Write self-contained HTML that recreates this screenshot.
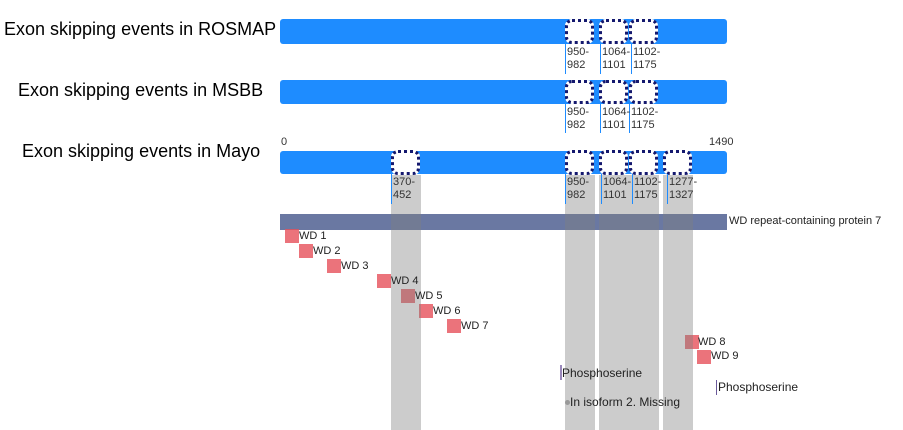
<!DOCTYPE html>
<html><head><style>
body{margin:0;width:903px;height:430px;background:#fff;position:relative;overflow:hidden;font-family:"Liberation Sans",Arial,sans-serif}
div{position:absolute}
.t{font-size:18px;color:#000;white-space:nowrap}
.bar{background:#1e8cff;border-radius:3px;left:280px;width:447px}
.ex{border:3px dotted #14186e;background:#fff;border-radius:7px;box-sizing:border-box;width:29px;z-index:4}
.g{background:rgba(128,128,128,0.4);top:175px;height:255px;z-index:3}
.lab{font-size:11px;line-height:13px;color:#333;z-index:5}
.vl{width:1px;background:#1e8cff;z-index:4}
.sq{width:14px;height:14px;background:rgba(230,80,90,0.8)}
.wd{font-size:11px;color:#222;z-index:5;white-space:nowrap}
</style></head><body>
<div class="t" style="left:4px;top:19px">Exon skipping events in ROSMAP</div>
<div class="t" style="left:18px;top:80px">Exon skipping events in MSBB</div>
<div class="t" style="left:22px;top:141px">Exon skipping events in Mayo</div>

<div class="bar" style="top:19px;height:25px"></div>
<div class="bar" style="top:80px;height:24px"></div>
<div class="bar" style="top:151px;height:23px"></div>

<div class="ex" style="left:565px;top:19px;height:25px"></div>
<div class="ex" style="left:599px;top:19px;height:25px"></div>
<div class="ex" style="left:629px;top:19px;height:25px"></div>
<div class="ex" style="left:565px;top:80px;height:24px"></div>
<div class="ex" style="left:599px;top:80px;height:24px"></div>
<div class="ex" style="left:629px;top:80px;height:24px"></div>
<div class="ex" style="left:391px;top:150px;height:25px"></div>
<div class="ex" style="left:565px;top:150px;height:25px"></div>
<div class="ex" style="left:599px;top:150px;height:25px"></div>
<div class="ex" style="left:629px;top:150px;height:25px"></div>
<div class="ex" style="left:663px;top:150px;height:25px"></div>

<div class="lab" style="left:281px;top:136px">0</div>
<div class="lab" style="left:709px;top:136px">1490</div>

<div class="vl" style="left:565px;top:44px;height:30px"></div>
<div class="vl" style="left:600px;top:44px;height:30px"></div>
<div class="vl" style="left:631px;top:44px;height:30px"></div>
<div class="lab" style="left:567px;top:46px">950-<br>982</div>
<div class="lab" style="left:602px;top:46px">1064-<br>1101</div>
<div class="lab" style="left:633px;top:46px">1102-<br>1175</div>

<div class="vl" style="left:565px;top:104px;height:29px"></div>
<div class="vl" style="left:600px;top:104px;height:29px"></div>
<div class="vl" style="left:629px;top:104px;height:29px"></div>
<div class="lab" style="left:567px;top:106px">950-<br>982</div>
<div class="lab" style="left:602px;top:106px">1064-<br>1101</div>
<div class="lab" style="left:631px;top:106px">1102-<br>1175</div>

<div class="vl" style="left:391px;top:174px;height:30px"></div>
<div class="vl" style="left:565px;top:174px;height:30px"></div>
<div class="vl" style="left:601px;top:174px;height:30px"></div>
<div class="vl" style="left:632px;top:174px;height:30px"></div>
<div class="vl" style="left:667px;top:174px;height:30px"></div>
<div class="lab" style="left:393px;top:176px">370-<br>452</div>
<div class="lab" style="left:567px;top:176px">950-<br>982</div>
<div class="lab" style="left:603px;top:176px">1064-<br>1101</div>
<div class="lab" style="left:634px;top:176px">1102-<br>1175</div>
<div class="lab" style="left:669px;top:176px">1277-<br>1327</div>

<div style="left:280px;top:214px;width:447px;height:16px;background:#6a78a2"></div>
<div class="wd" style="left:729px;top:215px">WD repeat-containing protein 7</div>

<div class="sq" style="left:285px;top:229px"></div><div class="wd" style="left:299px;top:230px">WD 1</div>
<div class="sq" style="left:299px;top:244px"></div><div class="wd" style="left:313px;top:245px">WD 2</div>
<div class="sq" style="left:327px;top:259px"></div><div class="wd" style="left:341px;top:260px">WD 3</div>
<div class="sq" style="left:377px;top:274px"></div><div class="wd" style="left:391px;top:275px">WD 4</div>
<div class="sq" style="left:401px;top:289px"></div><div class="wd" style="left:415px;top:290px">WD 5</div>
<div class="sq" style="left:419px;top:304px"></div><div class="wd" style="left:433px;top:305px">WD 6</div>
<div class="sq" style="left:447px;top:319px"></div><div class="wd" style="left:461px;top:320px">WD 7</div>
<div class="sq" style="left:685px;top:335px"></div><div class="wd" style="left:698px;top:336px">WD 8</div>
<div class="sq" style="left:697px;top:350px"></div><div class="wd" style="left:711px;top:350px">WD 9</div>

<div style="left:560px;top:365px;width:2px;height:15px;background:#9a88bb"></div>
<div class="wd" style="left:562px;top:366px;font-size:12px">Phosphoserine</div>
<div style="left:716px;top:380px;width:1px;height:15px;background:#6a5a9a"></div>
<div class="wd" style="left:718px;top:380px;font-size:12px">Phosphoserine</div>
<div style="left:565px;top:400px;width:5px;height:5px;border-radius:50%;background:#aaa"></div>
<div class="wd" style="left:570px;top:395px;font-size:12px">In isoform 2. Missing</div>

<div class="g" style="left:391px;width:30px"></div>
<div class="g" style="left:565px;width:30px"></div>
<div class="g" style="left:599px;width:60px"></div>
<div class="g" style="left:663px;width:30px"></div>
</body></html>
